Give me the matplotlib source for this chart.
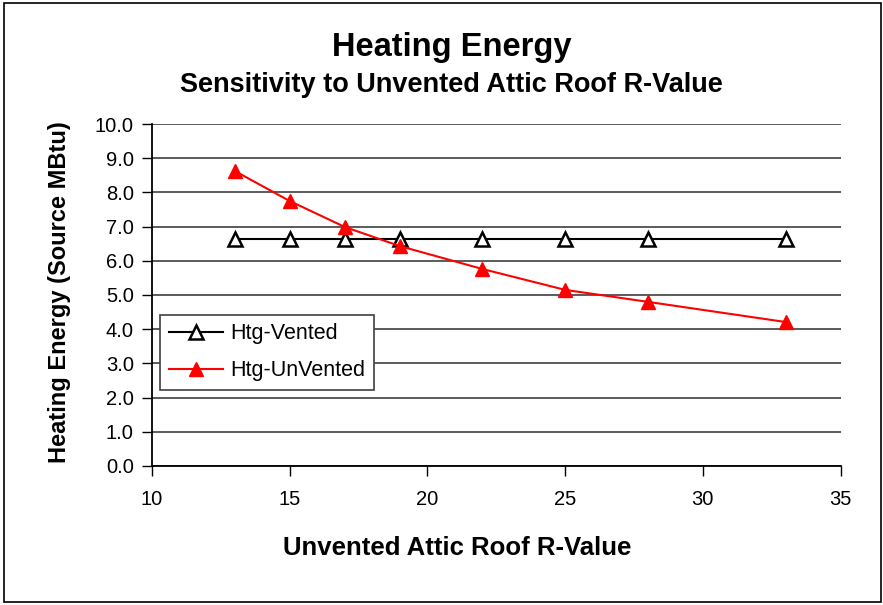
import matplotlib.pyplot as plt
from matplotlib.patches import Rectangle

plt.rcParams['font.family'] = ['Liberation Sans', 'DejaVu Sans']

r_values = [13, 15, 17, 19, 22, 25, 28, 33]
htg_vented = [6.65, 6.65, 6.65, 6.65, 6.65, 6.65, 6.65, 6.65]
htg_unvented = [8.63, 7.75, 6.99, 6.43, 5.76, 5.15, 4.80, 4.21]
y_ticks = [0.0, 1.0, 2.0, 3.0, 4.0, 5.0, 6.0, 7.0, 8.0, 9.0, 10.0]
x_ticks = [10, 15, 20, 25, 30, 35]

fig = plt.figure(figsize=(8.83, 6.05), dpi=100)
ax = fig.add_axes([0.172, 0.2298, 0.780, 0.5652])

# chart border
fig.patches.append(Rectangle((0.005, 0.005), 0.993, 0.99, transform=fig.transFigure,
                             fill=False, edgecolor='black', linewidth=1.2))

ax.plot(r_values, htg_vented, color='black', linewidth=1.5, marker='^', markersize=10,
        markerfacecolor='white', markeredgecolor='black', markeredgewidth=1.8,
        label='Htg-Vented', zorder=3)
ax.plot(r_values, htg_unvented, color='#ff0000', linewidth=1.5, marker='^', markersize=10,
        markerfacecolor='#ff0000', markeredgecolor='#ff0000',
        label='Htg-UnVented', zorder=4)

ax.set_xlim(10, 35)
ax.set_ylim(0, 10)
ax.set_xticks(x_ticks)
ax.set_yticks(y_ticks)
ax.set_yticklabels([f'{v:.1f}' for v in y_ticks])
ax.tick_params(axis='both', direction='out', length=7, width=1, labelsize=14.5, colors='black')
ax.tick_params(axis='x', pad=10)
ax.tick_params(axis='y', pad=6)
ax.yaxis.grid(True, color='#404040', linewidth=1.2)
ax.set_axisbelow(True)
for side in ['top', 'right']:
    ax.spines[side].set_visible(False)
for side in ['left', 'bottom']:
    ax.spines[side].set_linewidth(1.3)

ax.set_xlabel('Unvented Attic Roof R-Value', fontsize=18.5, fontweight='bold', va='center')
ax.set_ylabel('Heating Energy (Source MBtu)', fontsize=17, fontweight='bold', va='center')
ax.xaxis.set_label_coords(0.443, -0.24)
ax.yaxis.set_label_coords(-0.1335, 0.509)

fig.text(0.512, 0.922, 'Heating Energy', ha='center', va='center', fontsize=23.5, fontweight='bold')
fig.text(0.511, 0.859, 'Sensitivity to Unvented Attic Roof R-Value', ha='center', va='center',
         fontsize=19.5, fontweight='bold')

leg = ax.legend(loc='lower left', bbox_to_anchor=(0.012, 0.222), fontsize=15.5,
                frameon=True, fancybox=False, edgecolor='#404040', framealpha=1,
                handlelength=2.5, handletextpad=0.35, borderpad=0.4, labelspacing=0.75,
                borderaxespad=0)
leg.get_frame().set_linewidth(1.2)

fig.savefig('out.png', dpi=100)
